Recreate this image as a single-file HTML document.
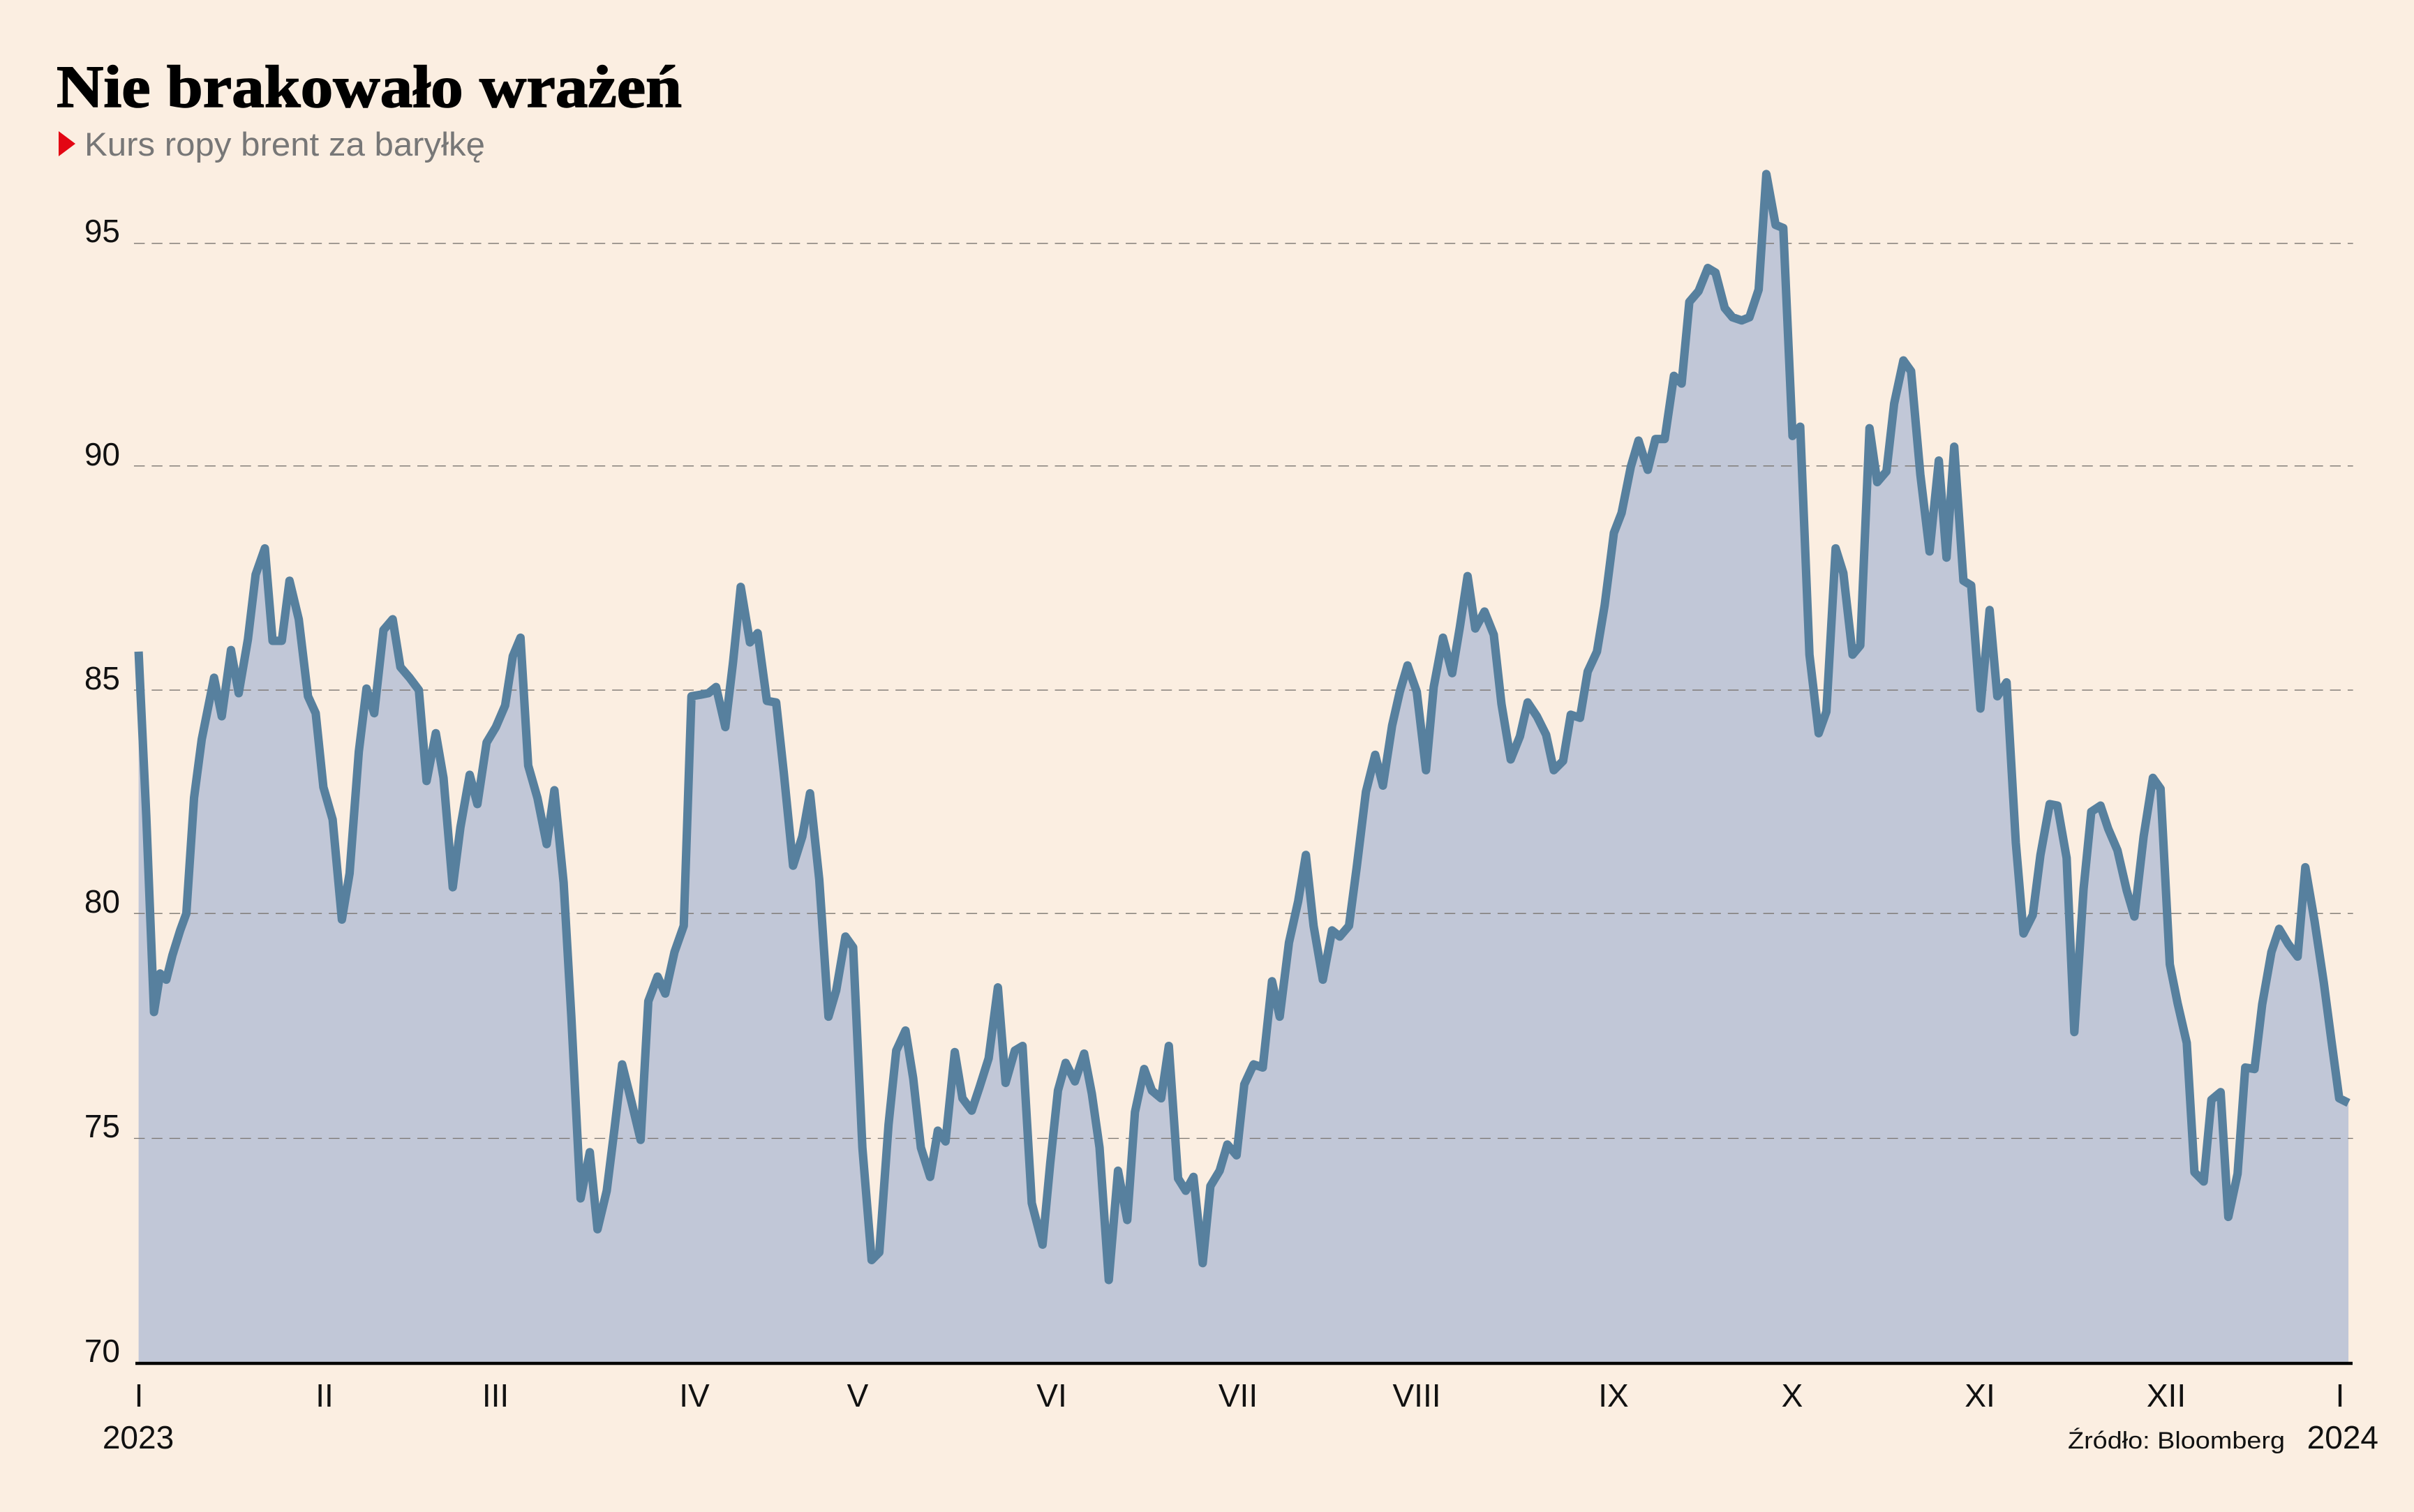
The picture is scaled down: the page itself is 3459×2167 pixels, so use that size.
<!DOCTYPE html>
<html><head><meta charset="utf-8"><style>
html,body{margin:0;padding:0;background:#fbeee1;}
svg{display:block;}
</style></head><body>
<svg width="3459" height="2167" viewBox="0 0 3459 2167" xmlns="http://www.w3.org/2000/svg">
<rect width="3459" height="2167" fill="#fbeee1"/>
<text x="81" y="153" font-family="Liberation Serif, serif" font-weight="bold" font-size="86" textLength="896" lengthAdjust="spacingAndGlyphs" fill="#000" stroke="#000" stroke-width="1.5">Nie brakowało wrażeń</text>
<polygon points="84,188 108,206 84,224" fill="#e30613"/>
<text x="121" y="223" font-family="Liberation Sans, sans-serif" font-size="47" textLength="574" lengthAdjust="spacingAndGlyphs" fill="#777">Kurs ropy brent za baryłkę</text>
<g transform="scale(2.2066,2.2077)">
<polygon fill="#c1c7d7" points="90,885 90,423 95,530 100,657 104,632 108,636 112,620 117,604 121,593 126,518 131,480 139,440 144,465 150,422 155,450 161,415 166,373 172,356 177,416 183,416 188,377 194,402 200,452 205,463 210,511 216,532 222,597 227,567 233,488 238,447 243,463 249,409 255,402 260,433 266,440 272,448 277,507 283,476 288,505 294,576 299,537 305,503 310,522 316,482 322,472 328,458 333,426 338,414 343,497 349,518 355,548 360,513 366,573 371,660 377,778 383,748 388,798 394,773 399,733 404,691 410,715 416,740 421,650 427,634 432,645 438,618 444,601 449,452 455,451 460,450 465,446 471,472 476,430 481,381 487,417 492,411 498,455 504,456 509,502 515,562 521,543 526,515 532,571 538,660 543,643 549,608 554,615 560,745 566,818 571,813 577,730 582,682 588,669 593,700 598,745 604,764 609,734 614,741 620,683 625,713 631,721 636,706 642,687 648,641 653,703 659,682 664,679 670,781 677,808 682,755 687,708 692,690 698,702 704,684 709,710 714,745 720,831 726,760 732,792 737,722 743,694 748,708 754,713 759,679 765,765 770,773 775,764 781,820 786,770 792,760 797,743 803,750 808,704 814,691 820,693 826,637 831,660 837,612 843,585 848,555 853,601 859,636 865,604 870,608 876,601 881,563 887,514 893,490 898,510 904,471 909,449 914,432 920,449 926,500 931,446 937,414 943,437 948,407 953,374 958,408 964,397 970,412 975,457 981,493 987,478 992,456 998,465 1004,477 1009,500 1015,494 1020,464 1026,466 1031,436 1037,423 1042,393 1048,346 1053,333 1059,303 1064,286 1070,305 1075,285 1081,285 1087,244 1092,249 1097,196 1103,189 1109,174 1114,177 1120,200 1125,206 1131,208 1136,206 1142,188 1147,113 1153,146 1158,148 1164,283 1169,277 1175,425 1181,476 1186,462 1192,356 1197,372 1203,425 1208,419 1214,278 1219,313 1225,306 1230,262 1236,234 1241,241 1247,308 1253,358 1259,299 1264,362 1269,290 1275,377 1280,380 1286,460 1292,396 1297,452 1303,443 1309,547 1314,606 1320,594 1325,555 1331,522 1336,523 1342,557 1347,670 1353,577 1358,527 1364,523 1369,538 1375,552 1381,578 1386,595 1392,543 1398,505 1403,512 1409,626 1414,651 1420,677 1425,761 1431,767 1436,714 1442,709 1447,790 1453,762 1458,693 1464,694 1469,652 1475,618 1480,603 1486,613 1492,621 1497,563 1503,598 1509,638 1514,676 1519,713 1525,716 1525,885"/>
<g stroke="#7a7570" stroke-width="0.6" stroke-dasharray="7,4.5">
<line x1="87" y1="158" x2="1528" y2="158"/>
<line x1="87" y1="302.5" x2="1528" y2="302.5"/>
<line x1="87" y1="448" x2="1528" y2="448"/>
<line x1="87" y1="593" x2="1528" y2="593"/>
<line x1="87" y1="739" x2="1528" y2="739"/>
</g>
<polyline fill="none" stroke="#57809e" stroke-width="5.5" stroke-linejoin="round" points="90,423 95,530 100,657 104,632 108,636 112,620 117,604 121,593 126,518 131,480 139,440 144,465 150,422 155,450 161,415 166,373 172,356 177,416 183,416 188,377 194,402 200,452 205,463 210,511 216,532 222,597 227,567 233,488 238,447 243,463 249,409 255,402 260,433 266,440 272,448 277,507 283,476 288,505 294,576 299,537 305,503 310,522 316,482 322,472 328,458 333,426 338,414 343,497 349,518 355,548 360,513 366,573 371,660 377,778 383,748 388,798 394,773 399,733 404,691 410,715 416,740 421,650 427,634 432,645 438,618 444,601 449,452 455,451 460,450 465,446 471,472 476,430 481,381 487,417 492,411 498,455 504,456 509,502 515,562 521,543 526,515 532,571 538,660 543,643 549,608 554,615 560,745 566,818 571,813 577,730 582,682 588,669 593,700 598,745 604,764 609,734 614,741 620,683 625,713 631,721 636,706 642,687 648,641 653,703 659,682 664,679 670,781 677,808 682,755 687,708 692,690 698,702 704,684 709,710 714,745 720,831 726,760 732,792 737,722 743,694 748,708 754,713 759,679 765,765 770,773 775,764 781,820 786,770 792,760 797,743 803,750 808,704 814,691 820,693 826,637 831,660 837,612 843,585 848,555 853,601 859,636 865,604 870,608 876,601 881,563 887,514 893,490 898,510 904,471 909,449 914,432 920,449 926,500 931,446 937,414 943,437 948,407 953,374 958,408 964,397 970,412 975,457 981,493 987,478 992,456 998,465 1004,477 1009,500 1015,494 1020,464 1026,466 1031,436 1037,423 1042,393 1048,346 1053,333 1059,303 1064,286 1070,305 1075,285 1081,285 1087,244 1092,249 1097,196 1103,189 1109,174 1114,177 1120,200 1125,206 1131,208 1136,206 1142,188 1147,113 1153,146 1158,148 1164,283 1169,277 1175,425 1181,476 1186,462 1192,356 1197,372 1203,425 1208,419 1214,278 1219,313 1225,306 1230,262 1236,234 1241,241 1247,308 1253,358 1259,299 1264,362 1269,290 1275,377 1280,380 1286,460 1292,396 1297,452 1303,443 1309,547 1314,606 1320,594 1325,555 1331,522 1336,523 1342,557 1347,670 1353,577 1358,527 1364,523 1369,538 1375,552 1381,578 1386,595 1392,543 1398,505 1403,512 1409,626 1414,651 1420,677 1425,761 1431,767 1436,714 1442,709 1447,790 1453,762 1458,693 1464,694 1469,652 1475,618 1480,603 1486,613 1492,621 1497,563 1503,598 1509,638 1514,676 1519,713 1525,716"/>
</g>
<line x1="194" y1="1954" x2="3371" y2="1954" stroke="#000" stroke-width="4.5"/>
<g font-family="Liberation Sans, sans-serif" font-size="46" fill="#111" text-anchor="end">
<text x="172" y="347">95</text>
<text x="172" y="667">90</text>
<text x="172" y="988">85</text>
<text x="172" y="1308">80</text>
<text x="172" y="1630">75</text>
<text x="172" y="1952">70</text>
</g>
<g font-family="Liberation Sans, sans-serif" font-size="46" fill="#111" text-anchor="middle">
<text x="199" y="2016">I</text>
<text x="465" y="2016">II</text>
<text x="710" y="2016">III</text>
<text x="995" y="2016">IV</text>
<text x="1229" y="2016">V</text>
<text x="1507" y="2016">VI</text>
<text x="1774" y="2016">VII</text>
<text x="2030" y="2016">VIII</text>
<text x="2312" y="2016">IX</text>
<text x="2568" y="2016">X</text>
<text x="2837" y="2016">XI</text>
<text x="3104" y="2016">XII</text>
<text x="3353" y="2016">I</text>
<text x="198" y="2076">2023</text>
</g>
<text x="3408" y="2076" font-family="Liberation Sans, sans-serif" font-size="46" fill="#111" text-anchor="end">2024</text>
<text x="2963" y="2076" font-family="Liberation Sans, sans-serif" font-size="34" fill="#111" textLength="311" lengthAdjust="spacingAndGlyphs">Źródło: Bloomberg</text>
</svg>
</body></html>
